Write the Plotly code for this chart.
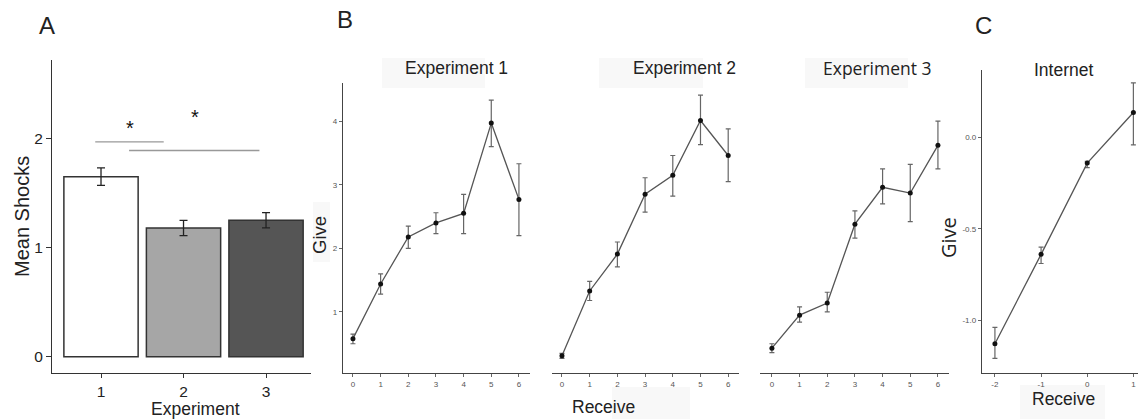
import plotly.graph_objects as go

W, H = 1138, 419

# ---------------- data ----------------
# Panel A
expA = [1, 2, 3]
meanA = [1.65, 1.18, 1.25]
errA = [0.08, 0.07, 0.07]
colorsA = ["#ffffff", "#a6a6a6", "#555555"]
ticksA = [0, 1, 2]

# significance brackets (panel A)
sig_x0 = [0.93, 1.34]
sig_x1 = [1.76, 2.92]
sig_y = [1.97, 1.89]
star_x = [1.35, 2.14]
star_y = [2.10, 2.20]

# Panel B
receive = [0, 1, 2, 3, 4, 5, 6]
give_e1 = [0.58, 1.44, 2.18, 2.40, 2.55, 3.97, 2.77]
up_e1 = [0.65, 1.60, 2.35, 2.56, 2.85, 4.33, 3.33]
lo_e1 = [0.50, 1.28, 2.00, 2.23, 2.23, 3.60, 2.20]

give_e2 = [0.31, 1.33, 1.91, 2.85, 3.15, 4.01, 3.46]
up_e2 = [0.35, 1.48, 2.10, 3.11, 3.46, 4.41, 3.88]
lo_e2 = [0.27, 1.18, 1.71, 2.57, 2.82, 3.63, 3.05]

give_e3 = [0.43, 0.95, 1.14, 2.38, 2.96, 2.87, 3.62]
up_e3 = [0.50, 1.08, 1.31, 2.59, 3.25, 3.32, 4.00]
lo_e3 = [0.36, 0.84, 1.00, 2.16, 2.70, 2.42, 3.25]
ticksB = [1, 2, 3, 4]

# Panel C
receiveC = [-2, -1, 0, 1]
giveC = [-1.13, -0.64, -0.14, 0.137]
upC = [-1.04, -0.60, -0.13, 0.30]
loC = [-1.21, -0.69, -0.165, -0.04]
ticksC = [0.0, -0.5, -1.0]
ticklabC = ["0.0", "-0.5", "-1.0"]


def fx(px):
    return px / W


def fy(py):
    return 1 - py / H


FONT = "Liberation Sans, Arial, sans-serif"
LINE = "#555555"
AX = "#333333"

fig = go.Figure()

# Panel A bars
fig.add_trace(go.Bar(
    x=expA, y=meanA, width=0.9,
    marker=dict(color=colorsA, line=dict(color="#333333", width=1.5)),
    error_y=dict(type="data", array=errA, color="#222222", thickness=1.3, width=4),
    xaxis="x", yaxis="y", showlegend=False,
))


def line_trace(xs, ys, up, lo, xa, ya):
    return go.Scatter(
        x=xs, y=ys, mode="lines+markers",
        line=dict(color=LINE, width=1.3),
        marker=dict(color="#111111", size=5),
        error_y=dict(type="data", symmetric=False,
                     array=[u - v for u, v in zip(up, ys)],
                     arrayminus=[v - l for v, l in zip(ys, lo)],
                     color="#666666", thickness=1.2, width=2.5),
        xaxis=xa, yaxis=ya, showlegend=False, cliponaxis=False,
    )


fig.add_trace(line_trace(receive, give_e1, up_e1, lo_e1, "x2", "y2"))
fig.add_trace(line_trace(receive, give_e2, up_e2, lo_e2, "x3", "y3"))
fig.add_trace(line_trace(receive, give_e3, up_e3, lo_e3, "x4", "y4"))
fig.add_trace(line_trace(receiveC, giveC, upC, loC, "x5", "y5"))

small_tick = dict(size=8, color="#555555", family=FONT)
big_tick = dict(size=15.5, color="#222222", family=FONT)

layout = dict(
    width=W, height=H, autosize=False,
    margin=dict(l=0, r=0, t=0, b=0),
    paper_bgcolor="white", plot_bgcolor="rgba(0,0,0,0)",
    font=dict(family=FONT, color="#222222"),
    showlegend=False,
    # Panel A
    xaxis=dict(domain=[fx(52), fx(311)], range=[0.406, 3.545], anchor="y",
               tickvals=expA, ticks="outside", ticklen=4, tickcolor=AX,
               showline=True, linecolor=AX, linewidth=1.3, showgrid=False, zeroline=False,
               tickfont=big_tick),
    yaxis=dict(domain=[fy(373), fy(60)], range=[-0.15, 2.72], anchor="x",
               tickvals=ticksA, ticks="outside", ticklen=5, tickcolor=AX,
               showline=True, linecolor=AX, linewidth=1.3, showgrid=False, zeroline=False,
               tickfont=big_tick),
    # Panel B1
    xaxis2=dict(domain=[fx(343), fx(530)], range=[-0.36, 6.4], anchor="y2",
                tickvals=receive, ticks="outside", ticklen=3, tickcolor="#666",
                showline=True, linecolor="#444", linewidth=1.3, showgrid=False, zeroline=False,
                tickfont=small_tick),
    yaxis2=dict(domain=[fy(373), fy(83)], range=[0.04, 4.6], anchor="x2",
                tickvals=ticksB, ticks="outside", ticklen=3, tickcolor="#666",
                showline=True, linecolor="#444", linewidth=1.3, showgrid=False, zeroline=False,
                tickfont=small_tick),
    # Panel B2
    xaxis3=dict(domain=[fx(552), fx(739)], range=[-0.36, 6.39], anchor="y3",
                tickvals=receive, ticks="outside", ticklen=3, tickcolor="#666",
                showline=True, linecolor="#444", linewidth=1.3, showgrid=False, zeroline=False,
                tickfont=small_tick),
    yaxis3=dict(domain=[fy(373), fy(83)], range=[0.04, 4.6], anchor="x3", visible=False),
    # Panel B3
    xaxis4=dict(domain=[fx(760), fx(949)], range=[-0.43, 6.4], anchor="y4",
                tickvals=receive, ticks="outside", ticklen=3, tickcolor="#666",
                showline=True, linecolor="#444", linewidth=1.3, showgrid=False, zeroline=False,
                tickfont=small_tick),
    yaxis4=dict(domain=[fy(373), fy(83)], range=[0.04, 4.6], anchor="x4", visible=False),
    # Panel C
    xaxis5=dict(domain=[fx(982), 1.0], range=[-2.28, 1.1], anchor="y5",
                tickvals=receiveC, ticktext=[str(v) for v in receiveC],
                ticks="outside", ticklen=3, tickcolor="#666",
                showline=True, linecolor="#444", linewidth=1.3, showgrid=False, zeroline=False,
                tickfont=small_tick),
    yaxis5=dict(domain=[fy(373), fy(70)], range=[-1.29, 0.37], anchor="x5",
                tickvals=ticksC, ticktext=ticklabC, ticks="outside", ticklen=3, tickcolor="#666",
                showline=True, linecolor="#444", linewidth=1.3, showgrid=False, zeroline=False,
                tickfont=small_tick),
)
fig.update_layout(**layout)

shapes = []
# significance lines
for x0, x1, y in zip(sig_x0, sig_x1, sig_y):
    shapes.append(dict(type="line", xref="x", yref="y", x0=x0, x1=x1, y0=y, y1=y,
                       line=dict(color="#999999", width=1.3)))
# light strip boxes behind facet titles / labels
BOX = "#f8f8f8"
for x0, x1 in [(382, 485), (599, 703), (805, 908)]:
    shapes.append(dict(type="rect", xref="paper", yref="paper", x0=fx(x0), x1=fx(x1),
                       y0=fy(88), y1=fy(58), fillcolor=BOX, line=dict(width=0), layer="below"))
shapes.append(dict(type="rect", xref="paper", yref="paper", x0=fx(612), x1=fx(690),
                   y0=fy(419), y1=fy(387), fillcolor=BOX, line=dict(width=0), layer="below"))
shapes.append(dict(type="rect", xref="paper", yref="paper", x0=fx(1020), x1=fx(1105),
                   y0=fy(419), y1=fy(385), fillcolor=BOX, line=dict(width=0), layer="below"))
shapes.append(dict(type="rect", xref="paper", yref="paper", x0=fx(313), x1=fx(330),
                   y0=fy(262), y1=fy(202), fillcolor=BOX, line=dict(width=0), layer="below"))
fig.update_layout(shapes=shapes)

ann = []
for sx, sy in zip(star_x, star_y):
    ann.append(dict(x=sx, y=sy, xref="x", yref="y", text="*", showarrow=False,
                    font=dict(size=20, color="#111111", family=FONT)))


def ptext(text, x, y, size, angle=0, family=FONT, color="#222222"):
    ann.append(dict(x=fx(x), y=fy(y), xref="paper", yref="paper", text=text,
                    showarrow=False, textangle=angle, xanchor="center", yanchor="middle",
                    font=dict(size=size, family=family, color=color)))


ptext("A", 47, 26, 24)
ptext("B", 345, 20, 24)
ptext("C", 983, 25, 24)
ptext("Mean Shocks", 22, 217, 20, angle=-90)
ptext("Experiment", 195, 409, 17.5)
ptext("Experiment 1", 456, 68, 17.5)
ptext("Experiment 2", 684, 68, 17.5)
ptext("Experiment 3", 877, 68, 17.5, family="Open Sans, sans-serif")
ptext("Internet", 1063, 70, 17.5)
ptext("Give", 319, 235, 18.5, angle=-90)
ptext("Give", 948, 238, 20, angle=-90, family="Open Sans, sans-serif")
ptext("Receive", 604, 407, 17.5)
ptext("Receive", 1063, 399, 17.5)
fig.update_layout(annotations=ann)

fig.write_html("out.html", config={"displayModeBar": False},
               post_script="document.body.style.margin='0';document.body.style.overflow='hidden';")
